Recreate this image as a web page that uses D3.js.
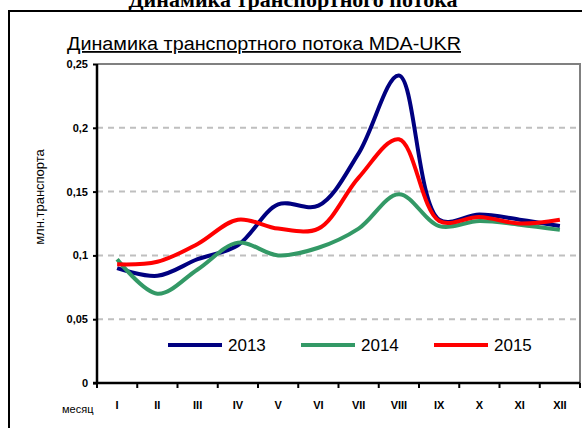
<!DOCTYPE html>
<html>
<head>
<meta charset="utf-8">
<script src="https://cdn.jsdelivr.net/npm/d3@7"></script>
<style>
  body { margin: 0; background: #fff; }
  svg { display: block; }
</style>
</head>
<body>
<svg width="582" height="428"></svg>
<script>
var months = ["I", "II", "III", "IV", "V", "VI", "VII", "VIII", "IX", "X", "XI", "XII"];
var years = ["2013", "2014", "2015"];
var colors = ["#000080", "#339966", "#ff0000"];
var v2013 = [0.090, 0.084, 0.097, 0.108, 0.140, 0.139, 0.180, 0.241, 0.128, 0.132, 0.128, 0.123];
var v2014 = [0.097, 0.070, 0.089, 0.110, 0.100, 0.106, 0.121, 0.148, 0.123, 0.127, 0.124, 0.120];
var v2015 = [0.093, 0.095, 0.109, 0.128, 0.121, 0.121, 0.161, 0.191, 0.127, 0.130, 0.125, 0.128];
var yTicks = [0, 0.05, 0.1, 0.15, 0.2, 0.25];

var series = [v2013, v2014, v2015];
var svg = d3.select("svg");

// outer frame and page title
svg.append("path").attr("d", "M9,428V11H582")
  .attr("fill", "none").attr("stroke", "#000").attr("stroke-width", 2);
svg.append("text").attr("x", 293).attr("y", 7).attr("text-anchor", "middle")
  .style("font", "bold 22px 'Liberation Serif'").text("Динамика транспортного потока");

var x = d3.scaleBand().domain(months).range([97, 580]);
var y = d3.scaleLinear().domain([0, 0.25]).range([383, 64]);
var fmt = function(d){ return String(d).replace(".", ","); };

// grid
svg.append("g").selectAll("line").data(yTicks.filter(function(d){ return d > 0 && d < 0.25; }))
  .enter().append("line")
  .attr("x1", 97).attr("x2", 580)
  .attr("y1", function(d){ return y(d); }).attr("y2", function(d){ return y(d); })
  .attr("stroke", "#bfbfbf").attr("stroke-width", 2).attr("stroke-dasharray", "6,5");

// plot area top/right border
svg.append("path").attr("d", "M97," + y(0.25) + "H580V383")
  .attr("fill", "none").attr("stroke", "#808080").attr("stroke-width", 2);

// axes
var yAxis = svg.append("g").attr("transform", "translate(97,0)")
  .call(d3.axisLeft(y).tickValues(yTicks).tickFormat(fmt).tickSize(4).tickPadding(5));
var xAxis = svg.append("g").attr("transform", "translate(0,383)")
  .call(d3.axisBottom(x).tickSize(0).tickPadding(26));
xAxis.selectAll(".tick text").attr("dy", 0);
svg.append("g").selectAll("line").data(d3.range(13)).enter().append("line")
  .attr("x1", function(i){ return 97 + i * x.step(); })
  .attr("x2", function(i){ return 97 + i * x.step(); })
  .attr("y1", 383).attr("y2", 388).attr("stroke", "#000").attr("stroke-width", 2);
[yAxis, xAxis].forEach(function(a){
  a.select(".domain").attr("stroke", "#000").attr("stroke-width", 2.5);
  a.selectAll(".tick line").attr("stroke", "#000").attr("stroke-width", 2);
  a.selectAll(".tick text").style("font", "bold 11px 'Liberation Sans'").attr("fill", "#000");
});
yAxis.select(".domain").attr("d", "M0,64V383");
xAxis.select(".domain").attr("d", "M93,0H580");

// series
var line = d3.line()
  .x(function(d, i){ return x(months[i]) + x.bandwidth() / 2; })
  .y(function(d){ return y(d); })
  .curve(d3.curveCatmullRom.alpha(0.5));
svg.append("g").selectAll("path").data(series).enter().append("path")
  .attr("d", line).attr("fill", "none")
  .attr("stroke", function(d, i){ return colors[i]; })
  .attr("stroke-width", 4).attr("stroke-linejoin", "round");

// titles
svg.append("text").attr("x", 264).attr("y", 50).attr("text-anchor", "middle")
  .attr("textLength", 394).attr("lengthAdjust", "spacingAndGlyphs")
  .style("font", "18px 'Liberation Sans'").style("text-decoration", "underline")
  .text("Динамика транспортного потока MDA-UKR");
svg.append("text").attr("transform", "translate(44,197) rotate(-90)").attr("text-anchor", "middle")
  .style("font", "13px 'Liberation Sans'").text("млн.транспорта");
svg.append("text").attr("x", 62).attr("y", 413)
  .style("font", "11px 'Liberation Sans'").text("месяц");

// legend
var leg = svg.append("g").selectAll("g").data(years).enter().append("g")
  .attr("transform", function(d, i){ return "translate(" + (168 + i * 133) + ",345)"; });
leg.append("line").attr("x1", 0).attr("x2", 54)
  .attr("stroke", function(d, i){ return colors[i]; }).attr("stroke-width", 4);
leg.append("text").attr("x", 60).attr("dy", "0.35em")
  .style("font", "17px 'Liberation Sans'").text(function(d){ return d; });
</script>
</body>
</html>
